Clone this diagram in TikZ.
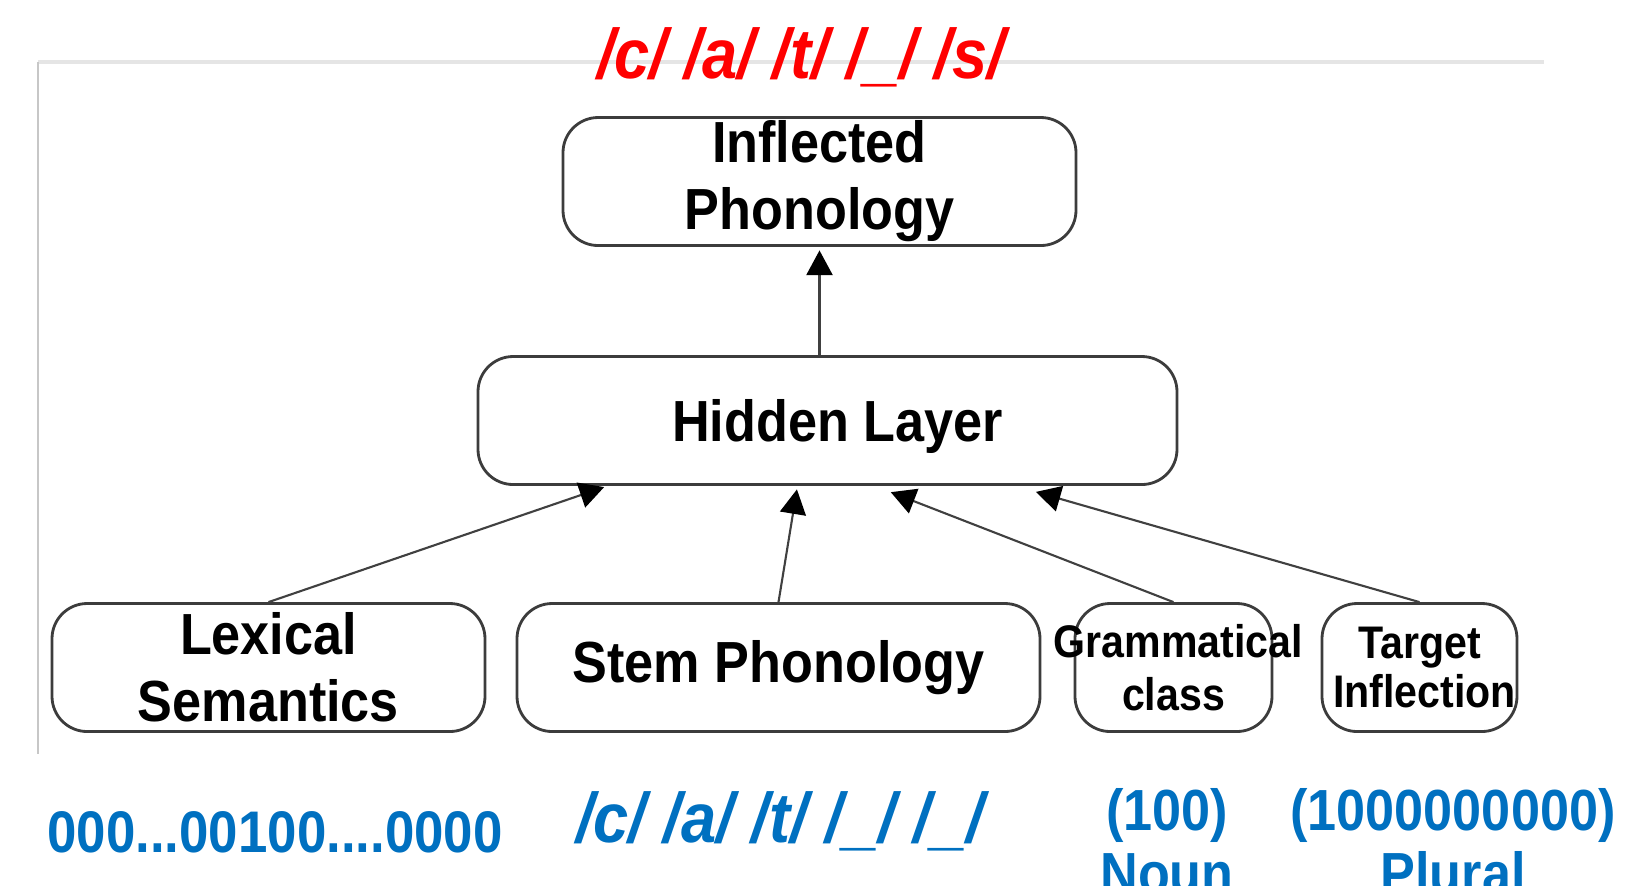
\documentclass[tikz,border=0pt]{standalone}
\usepackage{fontspec}
\setmainfont{Liberation Sans}[FakeStretch=0.9]
\usetikzlibrary{arrows.meta, positioning}
\definecolor{rossouscita}{RGB}{255,0,0}
\definecolor{bluingresso}{RGB}{0,112,192}
\definecolor{bordo}{RGB}{60,60,60}
\newcommand{\riga}[1]{\makebox[\linewidth]{#1}}

\begin{document}
\begin{tikzpicture}[
  font=\bfseries\fontsize{16.5}{19}\selectfont,
  riquadro/.style={draw=bordo, line width=0.8pt, rounded corners=10pt, align=center,
                   inner sep=0pt, minimum height=1.28cm},
  piccolo/.style={riquadro, font=\bfseries\fontsize{13}{14.2}\selectfont, text width=#1},
  freccia/.style={draw=black!75, line width=0.6pt, shorten >=1pt,
                  -{Triangle[length=7pt,width=7.4pt,color=black]}},
  codifica/.style={text=bluingresso, align=center}
]
\useasboundingbox (0,0) rectangle (16.27,-8.85);

% ---- cornice della diapositiva --------------------------------------
\draw[black!10, line width=1pt] (0.38,-0.62) -- (15.44,-0.62);
\draw[black!22, line width=0.6pt] (0.38,-0.62) -- (0.38,-7.54);

% ---- uscita ----------------------------------------------------------
\node[text=rossouscita, font=\bfseries\itshape\fontsize{20}{24}\selectfont] (uscita) at (8.01,-0.57)
  {/c/ /a/ /t/ /\_/ /s/};
\node[riquadro, minimum width=5.13cm] (infl) at (8.195,-1.815) {Inflected\\Phonology};

% ---- strato nascosto --------------------------------------------------
\node[riquadro, minimum width=6.99cm, text depth=0pt] (hidden) at (8.275,-4.205)
  {\hspace*{0.2cm}Hidden Layer};

% ---- ingressi ----------------------------------------------------------
\node[riquadro, minimum width=4.33cm] (lexsem) at (2.685,-6.675) {Lexical\\Semantics};
\node[riquadro, minimum width=5.23cm] (stemph) at (7.785,-6.675) {Stem Phonology};
\node[piccolo=1.97cm] (gramcl) at (11.735,-6.675) {\riga{\hspace{0.1cm}Grammatical}\\[1pt]class};
\node[piccolo=1.95cm] (target) at (14.195,-6.675) {Target\\\riga{\hspace{0.1cm}Inflection}};

\draw[freccia] (hidden.north -| infl.south) -- (infl.south);
\draw[freccia] (lexsem.north) -- ([xshift=-2.2cm]hidden.south);
\draw[freccia] (stemph.north) -- ([xshift=-0.3cm]hidden.south);
\draw[freccia] (gramcl.north) -- ([xshift=0.6cm,yshift=-0.05cm]hidden.south);
\draw[freccia] (target.north) -- ([xshift=2.05cm,yshift=-0.05cm]hidden.south);

% ---- codifiche degli ingressi ----------------------------------------
\node[codifica, font=\bfseries\fontsize{16.7}{19}\selectfont] (codlex) at (2.75,-8.32) {000...00100....0000};
\node[codifica, font=\bfseries\itshape\fontsize{20}{24}\selectfont] (codstem) at (7.80,-8.21)
  {/c/ /a/ /t/ /\_/ /\_/};
\node[codifica, font=\bfseries\fontsize{16.5}{17.8}\selectfont] (codcl) at (11.67,-8.41) {(100)\\Noun};
\node[codifica, font=\bfseries\fontsize{16.5}{17.8}\selectfont] (codinf) at (14.53,-8.41) {(1000000000)\\Plural};

\end{tikzpicture}
\end{document}
